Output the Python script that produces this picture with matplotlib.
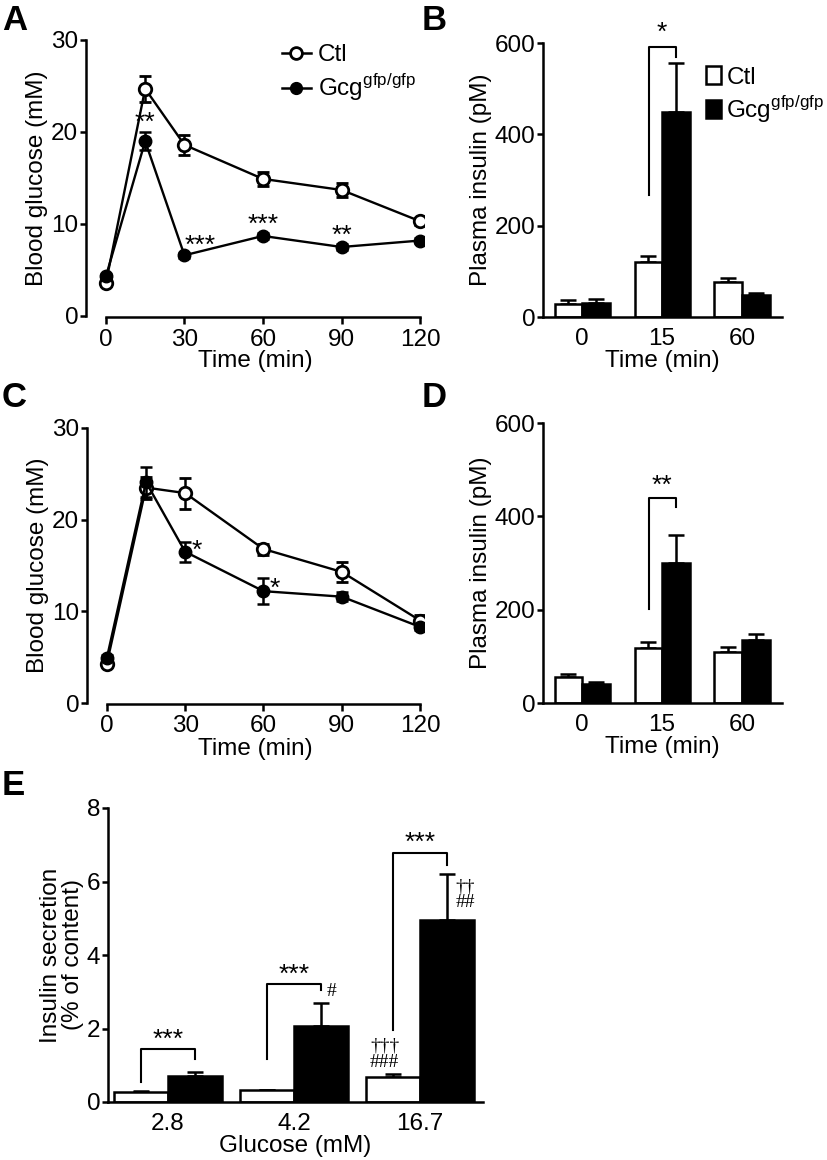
import numpy as np
import matplotlib
matplotlib.use("Agg")
import matplotlib.pyplot as plt
from matplotlib.lines import Line2D
from matplotlib.patches import Patch

plt.rcParams['font.family'] = ['Liberation Sans', 'DejaVu Sans']
plt.rcParams['font.size'] = 17.5
plt.rcParams['axes.linewidth'] = 1.8
plt.rcParams['mathtext.fontset'] = 'custom'
plt.rcParams['mathtext.rm'] = 'Liberation Sans'

# --- data ---
times = [0, 15, 30, 60, 90, 120]

# A: glucose tolerance (i.p.)
a_ctl = [3.6, 24.7, 18.6, 14.9, 13.7, 10.3]
a_ctl_err = [0.3, 1.4, 1.1, 0.8, 0.8, 0.4]
a_gcg = [4.3, 19.0, 6.6, 8.7, 7.5, 8.2]
a_gcg_err = [0.3, 1.0, 0.3, 0.3, 0.3, 0.3]

# C: glucose tolerance (oral)
c_ctl = [4.3, 23.5, 22.9, 16.8, 14.3, 9.0]
c_ctl_err = [0.3, 1.2, 1.7, 0.6, 1.1, 0.6]
c_gcg = [4.9, 24.1, 16.5, 12.2, 11.6, 8.3]
c_gcg_err = [0.3, 1.6, 1.1, 1.4, 0.5, 0.3]

# B, D: plasma insulin
ins_times = ['0', '15', '60']
b_ctl = [28, 120, 77]
b_ctl_err = [9, 14, 8]
b_gcg = [31, 449, 48]
b_gcg_err = [8, 107, 5]

d_ctl = [56, 118, 109]
d_ctl_err = [7, 13, 10]
d_gcg = [41, 301, 136]
d_gcg_err = [5, 58, 12]

# E: islet insulin secretion
glucose = ['2.8', '4.2', '16.7']
e_ctl = [0.27, 0.32, 0.68]
e_ctl_err = [0.03, 0.02, 0.09]
e_gcg = [0.70, 2.07, 4.95]
e_gcg_err = [0.12, 0.63, 1.26]

gcg_label = 'Gcg$^{\\mathrm{gfp/gfp}}$'
FS = 17.5
SFS = 19  # significance stars

fig = plt.figure(figsize=(8.27, 11.6), dpi=100)


def px(l, b, r, t):
    W, H = 827.0, 1160.0
    return [l / W, 1 - b / H, (r - l) / W, (b - t) / H]


def style(ax, xticks=True):
    for s in ['top', 'right']:
        ax.spines[s].set_visible(False)
    ax.tick_params(axis='y', direction='out', length=4.5, width=1.8, pad=1)
    if xticks:
        ax.tick_params(axis='x', direction='out', length=5, width=1.8, pad=3)
    else:
        ax.tick_params(axis='x', length=0, pad=8)


def line_panel(ax, ctl, ctl_err, gcg, gcg_err):
    ax.errorbar(times, ctl, yerr=ctl_err, color='black', lw=1.7,
                marker='o', ms=9, mfc='white', mec='black', mew=2,
                capsize=4.5, elinewidth=1.8, capthick=1.8, zorder=3)
    ax.errorbar(times, gcg, yerr=gcg_err, color='black', lw=1.7,
                marker='o', ms=9, mfc='black', mec='black',
                capsize=4.5, elinewidth=1.8, capthick=1.8, zorder=4)
    ax.set_xlim(-7.6, 121.5)
    ax.set_ylim(0, 30)
    ax.set_xticks([0, 30, 60, 90, 120])
    ax.set_yticks([0, 10, 20, 30])
    ax.spines['bottom'].set_bounds(0, 120)
    ax.spines['bottom'].set_position(('outward', 1))
    ax.set_xlabel('Time (min)', labelpad=0)
    ax.set_ylabel('Blood glucose (mM)', labelpad=2)
    style(ax)


def bar_panel(ax, cats, ctl, ctl_err, gcg, gcg_err, w):
    x = np.arange(len(cats))
    ax.bar(x - w / 2, ctl, w, color='white', edgecolor='black', lw=1.8, zorder=2)
    ax.bar(x + w / 2, gcg, w, color='black', edgecolor='black', lw=1.8, zorder=2)
    ax.errorbar(x - w / 2, ctl, yerr=[np.zeros(len(x)), ctl_err], fmt='none',
                ecolor='black', elinewidth=1.8, capsize=6, capthick=1.8, zorder=1)
    ax.errorbar(x + w / 2, gcg, yerr=[np.zeros(len(x)), gcg_err], fmt='none',
                ecolor='black', elinewidth=1.8, capsize=6, capthick=1.8, zorder=1)
    ax.set_xticks(x)
    ax.set_xticklabels(cats)
    style(ax, xticks=False)


def bracket(ax, x0, x1, y0, ytop, y1, text, ty, tx=None, fs=SFS):
    ax.plot([x0, x0, x1, x1], [y0, ytop, ytop, y1], color='black', lw=1.5,
            clip_on=False)
    if tx is None:
        tx = (x0 + x1) / 2
    ax.text(tx, ty, text, ha='center', va='center', fontsize=fs, clip_on=False)


# ---------------- A ----------------
axA = fig.add_axes(px(86, 316, 424, 40))
line_panel(axA, a_ctl, a_ctl_err, a_gcg, a_gcg_err)
axA.text(15, 21.0, '**', ha='center', va='center', fontsize=SFS)
axA.text(36, 7.6, '***', ha='center', va='center', fontsize=SFS)
axA.text(60, 9.9, '***', ha='center', va='center', fontsize=SFS)
axA.text(90, 8.7, '**', ha='center', va='center', fontsize=SFS)
hA = [Line2D([], [], color='black', lw=1.8, marker='o', ms=8.5, mfc='white', mew=2),
      Line2D([], [], color='black', lw=1.8, marker='o', ms=8.5, mfc='black')]
axA.legend(hA, ['Ctl', gcg_label], loc='upper left', bbox_to_anchor=(0.55, 1.02),
           frameon=False, handlelength=1.2, handletextpad=0.3, labelspacing=0.25,
           borderaxespad=0, fontsize=FS)

# ---------------- B ----------------
axB = fig.add_axes(px(543, 317, 782, 43))
bar_panel(axB, ins_times, b_ctl, b_ctl_err, b_gcg, b_gcg_err, 0.345)
axB.set_xlim(-0.49, 2.5)
axB.set_ylim(0, 600)
axB.set_yticks([0, 200, 400, 600])
axB.set_xlabel('Time (min)', labelpad=0)
axB.set_ylabel('Plasma insulin (pM)', labelpad=2)
bracket(axB, 1 - 0.17, 1 + 0.17, 268, 592, 570, '*', 622)
hB = [Patch(facecolor='white', edgecolor='black', lw=1.8),
      Patch(facecolor='black', edgecolor='black', lw=1.8)]
axB.legend(hB, ['Ctl', gcg_label], loc='upper left', bbox_to_anchor=(0.64, 0.95),
           frameon=False, handlelength=0.65, handleheight=0.75, handletextpad=0.2,
           labelspacing=0.2, borderaxespad=0, fontsize=FS)

# ---------------- C ----------------
axC = fig.add_axes(px(87, 703, 424, 428))
line_panel(axC, c_ctl, c_ctl_err, c_gcg, c_gcg_err)
axC.text(34.5, 16.6, '*', ha='center', va='center', fontsize=SFS)
axC.text(64.5, 12.5, '*', ha='center', va='center', fontsize=SFS)

# ---------------- D ----------------
axD = fig.add_axes(px(543, 703, 782, 423))
bar_panel(axD, ins_times, d_ctl, d_ctl_err, d_gcg, d_gcg_err, 0.345)
axD.set_xlim(-0.49, 2.5)
axD.set_ylim(0, 600)
axD.set_yticks([0, 200, 400, 600])
axD.set_xlabel('Time (min)', labelpad=0)
axD.set_ylabel('Plasma insulin (pM)', labelpad=2)
bracket(axD, 1 - 0.17, 1 + 0.17, 201, 439, 421, '**', 466)

# ---------------- E ----------------
axE = fig.add_axes(px(108, 1102, 483, 808))
bar_panel(axE, glucose, e_ctl, e_ctl_err, e_gcg, e_gcg_err, 0.43)
axE.set_xlim(-0.476, 2.5)
axE.set_ylim(0, 8)
axE.set_yticks([0, 2, 4, 6, 8])
axE.set_xlabel('Glucose (mM)', labelpad=0)
axE.set_ylabel('Insulin secretion\n(% of content)', labelpad=2, linespacing=1.0)
bracket(axE, -0.215, 0.215, 0.55, 1.45, 1.16, '***', 1.68)
bracket(axE, 1 - 0.215, 1 + 0.215, 1.16, 3.2, 3.05, '***', 3.45)
bracket(axE, 2 - 0.215, 2 + 0.215, 1.95, 6.77, 6.45, '***', 7.05)
serif = ['Liberation Serif', 'DejaVu Serif']
axE.text(1.3, 3.0, '#', ha='center', va='center', fontsize=14, family=serif)
axE.text(1.72, 1.3, '\u2020\u2020\u2020\n###', ha='center', va='center',
         fontsize=14, linespacing=0.9, family=serif)
axE.text(2.36, 5.65, '\u2020\u2020\n##', ha='center', va='center',
         fontsize=14, linespacing=0.9, family=serif)

# panel letters
for lab, (x, y) in zip('ABCDE', [(2, 30), (422, 30), (2, 407), (422, 407), (2, 795)]):
    fig.text(x / 827, 1 - y / 1160, lab, fontsize=25, fontweight='bold',
             ha='left', va='baseline')

fig.savefig('out.png', dpi=100)
